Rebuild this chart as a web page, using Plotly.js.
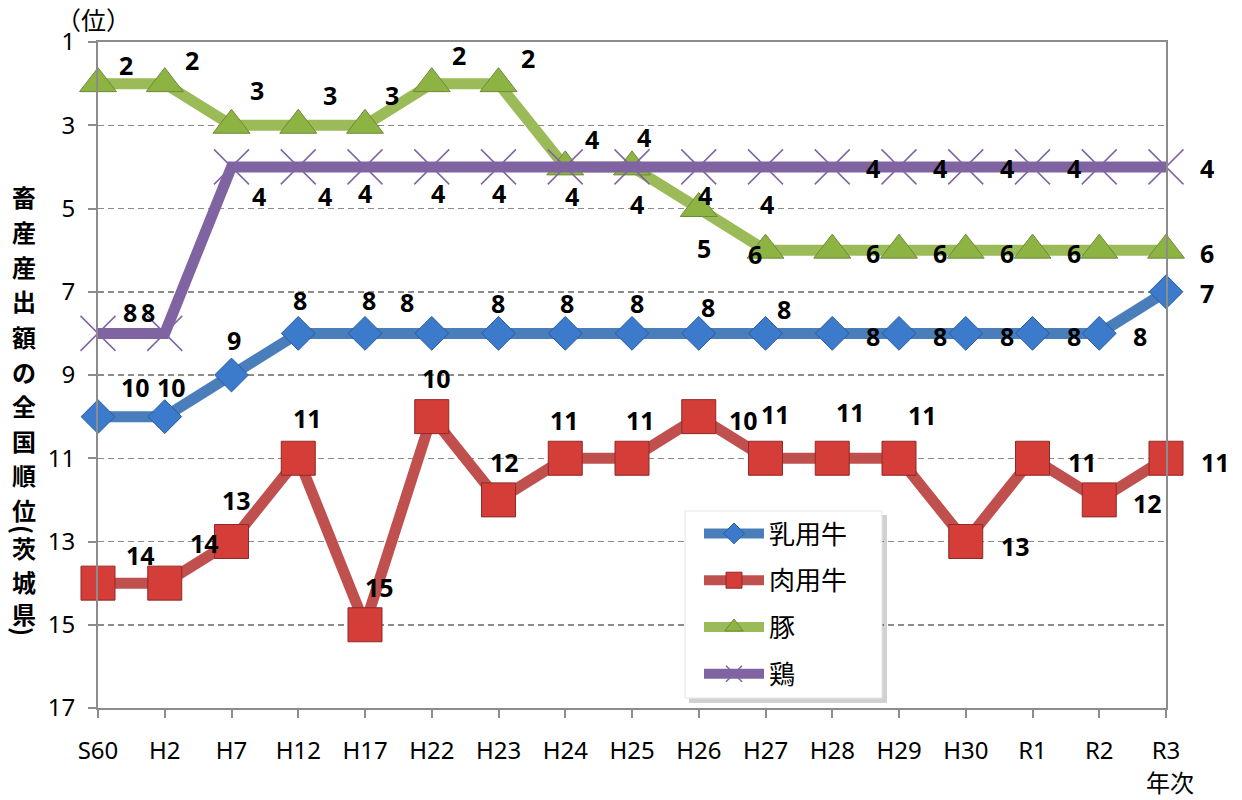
<!DOCTYPE html>
<html>
<head>
<meta charset="utf-8">
<script src="https://cdn.plot.ly/plotly-3.0.1.min.js"></script>
<style>
html,body{margin:0;padding:0;background:#fff;}
#chart{width:1242px;height:800px;}
</style>
</head>
<body>
<div id="chart"></div>
<script>
// ---- data ----
const years = ['S60','H2','H7','H12','H17','H22','H23','H24','H25','H26','H27','H28','H29','H30','R1','R2','R3'];
const seriesNames = ['乳用牛','肉用牛','豚','鶏'];
const dairy   = [10,10,9,8,8,8,8,8,8,8,8,8,8,8,8,8,7];
const beef    = [14,14,13,11,15,10,12,11,11,10,11,11,11,13,11,12,11];
const pig     = [2,2,3,3,3,2,2,4,4,5,6,6,6,6,6,6,6];
const chicken = [8,8,4,4,4,4,4,4,4,4,4,4,4,4,4,4,4];
const yTicks = [1,3,5,7,9,11,13,15,17];
const yTitleChars = ['畜','産','産','出','額','の','全','国','順','位','(','茨','城','県',')'];
const yUnit = '（位）';
const xUnit = '年次';

// ---- label offsets (screen px: dx right, dy down); null = no label ----
const dairyOff = [[37,-30],[7,-30],[2,-35],[2,-33],[4,-33],[-25,-31],[-1,-30],[2,-30],[5,-30],[9,-26],[18,-24],[41,3],[41,3],[41,3],[41,3],[41,3],[41,1]];
const beefOff = [[42,-28],[40,-40],[5,-42],[9,-40],[14,-38],[5,-39],[6,-38],[-1,-38],[8,-38],[45,3],[10,-44],[18,-46],[23,-43],[50,4],[50,4],[48,3],[49,4]];
const pigOff = [[28,-19],[27,-24],[25,-35],[32,-30],[27,-30],[27,-29],[29,-26],[27,-28],[12,-30],[5,39],[-11,4],[41,3],[41,3],[41,3],[41,3],null,[41,3]];
const chickenOff = [[32,-21],[-17,-21],[27,29],[27,29],[0,26],[6,26],[0,26],[7,29],[5,37],[6,28],[1,37],[41,1],[41,1],[41,1],[41,1],null,[41,1]];
const yTitleY = [196,231,266,301,336,371,405,440,475,509,529,547,581,613,631];

// ---- plot geometry ----
const L = 98, R = 1166, T = 42, B = 708;
const px2x = p => (p - L) / (R - L);
const px2y = p => (B - p) / (B - T);

const CJK = '"Noto Sans CJK JP", "Noto Sans", sans-serif';
const LAT = '"Noto Sans", "Open Sans", sans-serif';

const styles = [
  {line:'#4A7EBB', sym:'diamond', size:26, fill:'#3C7BCB', border:'#2A5C9C', bw:1},
  {line:'#C0504D', sym:'square', size:34, fill:'#D53D39', border:'#8E2A27', bw:1},
  {line:'#9BBB59', sym:'triangle-up', size:32, fill:'#8DB443', border:'#6E8A3A', bw:1},
  {line:'#8064A2', sym:'x-thin', size:35, fill:'#8064A2', border:'#8064A2', bw:1.5}
];
const allSeries = [dairy, beef, pig, chicken];
const allOff = [dairyOff, beefOff, pigOff, chickenOff];

const traces = allSeries.map((vals, i) => ({
  type:'scatter', mode:'lines+markers', name: seriesNames[i],
  x: years, y: vals, cliponaxis:false,
  legendgroup: 'g'+i,
  line:{color:styles[i].line, width:11},
  marker:{symbol:styles[i].sym, size:styles[i].size, color:styles[i].fill,
          line:{color:styles[i].border, width:styles[i].bw}}
}));

const annotations = [];
allSeries.forEach((vals, i) => {
  vals.forEach((v, j) => {
    const off = allOff[i][j];
    if (!off) return;
    annotations.push({
      x: years[j], y: v, xref:'x', yref:'y', text: String(v), showarrow:false,
      xanchor:'center', yanchor:'middle',
      xshift: off[0], yshift: -off[1],
      font:{family:LAT, size:25, color:'#000', weight:700}
    });
  });
});
yTitleChars.forEach((c, k) => {
  const paren = (c === '(' || c === ')');
  annotations.push({
    x: px2x(24), y: px2y(yTitleY[k]), xref:'paper', yref:'paper', text:c, showarrow:false,
    xanchor:'center', yanchor:'middle',
    textangle: paren ? 90 : 0,
    font:{family:CJK, size:24, color:'#000', weight:700}
  });
});
annotations.push({x:px2x(93), y:px2y(19), xref:'paper', yref:'paper', text:yUnit, showarrow:false,
  xanchor:'center', yanchor:'middle',
  font:{family:CJK, size:25, color:'#000'}});
annotations.push({x:px2x(1170), y:px2y(781), xref:'paper', yref:'paper', text:xUnit, showarrow:false,
  xanchor:'center', yanchor:'middle',
  font:{family:CJK, size:24, color:'#000'}});

const legX0 = 685, legX1 = 882, legY0 = 511, legY1 = 698;
const shapes = [
  {type:'rect', xref:'paper', yref:'paper', layer:'above',
   x0:px2x(legX0+4), x1:px2x(legX1+5), y0:px2y(legY0+4), y1:px2y(legY1+5),
   fillcolor:'rgba(0,0,0,0.18)', line:{width:0}},
  {type:'rect', xref:'paper', yref:'paper', layer:'above',
   x0:px2x(legX0), x1:px2x(legX1), y0:px2y(legY0), y1:px2y(legY1),
   fillcolor:'#ffffff', line:{color:'#e6e6e6', width:1}}
];

const layout = {
  width:1242, height:800,
  margin:{l:L, r:1242-R, t:T, b:800-B, pad:0},
  paper_bgcolor:'#fff', plot_bgcolor:'#fff',
  showlegend:true,
  legend:{x:px2x(legX0+14), y:px2y(legY0-1), xanchor:'left', yanchor:'top',
          bgcolor:'rgba(0,0,0,0)', borderwidth:0, itemwidth:60, tracegroupgap:10,
          font:{family:CJK, size:26, color:'#000'}},
  xaxis:{type:'category', range:[0,16], showgrid:false, zeroline:false,
         showline:true, linecolor:'#8c8c8c', linewidth:2, mirror:true,
         ticks:'outside', ticklen:8, tickcolor:'#8c8c8c', tickwidth:2,
         tickfont:{family:LAT, size:24, color:'#000'}, ticklabelstandoff:12},
  yaxis:{range:[17,1], tickvals:yTicks, ticktext:yTicks.map(String),
         showgrid:true, gridcolor:'#8c8c8c', gridwidth:1.5, griddash:'6px,4px',
         zeroline:false, showline:true, linecolor:'#8c8c8c', linewidth:2, mirror:true,
         ticks:'outside', ticklen:8, tickcolor:'#8c8c8c', tickwidth:2,
         tickfont:{family:LAT, size:24, color:'#000'}, ticklabelstandoff:8},
  annotations: annotations,
  shapes: shapes
};

Plotly.newPlot('chart', traces, layout, {displayModeBar:false, staticPlot:true});
</script>
</body>
</html>
